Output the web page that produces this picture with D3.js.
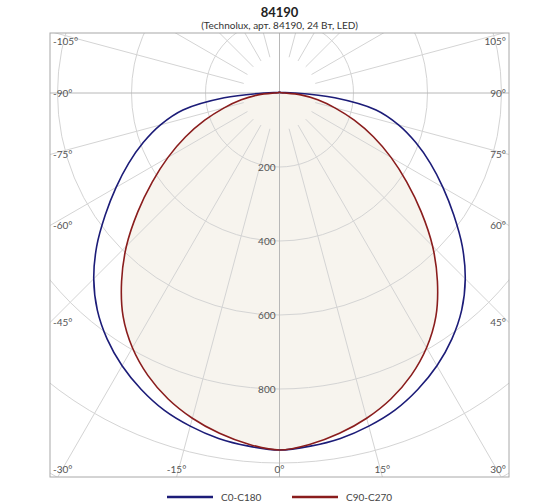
<!DOCTYPE html>
<html>
<head>
<meta charset="utf-8">
<script src="https://cdn.jsdelivr.net/npm/d3@7"></script>
<style>
  body { margin: 0; background: #fff; }
  svg { display: block; font-family: Lato, "Open Sans", sans-serif; }
</style>
</head>
<body>
<svg width="560" height="504"></svg>
<script>
// gamma angles (degrees from nadir), same for both halves
const gammaAngles = [0, 5, 10, 15, 20, 25, 30, 35, 40, 45, 50, 55, 60, 65, 70, 75, 80, 85, 90,
  95, 100, 105, 110, 115, 120, 125, 130, 135, 140, 145, 150, 155, 160, 165, 170, 175, 180];

// cd/klm
const c0c180 = [965, 958, 948, 932, 912, 884, 851, 812, 766, 710, 645, 575, 510, 450, 392, 333, 265, 150, 40,
  12, 6, 4, 3, 3, 3, 3, 2, 2, 2, 2, 2, 2, 2, 2, 2, 2, 2];
const c90c270 = [965, 953, 934, 910, 880, 842, 795, 737, 664, 585, 500, 420, 348, 280, 215, 155, 105, 58, 14,
  6, 4, 3, 3, 3, 3, 2, 2, 2, 2, 2, 2, 2, 2, 2, 2, 2, 2];

const circleValues = [200, 400, 600, 800, 1000, 1200];
const radiusLabels = [200, 400, 600, 800];
const angleLabels = [-105, -90, -75, -60, -45, -30, -15, 0, 15, 30, 45, 60, 75, 90, 105];
const seriesNames = ["C0-C180", "C90-C270"];

const svg = d3.select("svg");
const box = { left: 50, right: 509, top: 33, bottom: 477 };
const cx = 279.5, cy = 93;

const r = d3.scaleLinear().domain([0, 1000]).range([0, 370]);
const rad = g => g * Math.PI / 180;

// title
svg.append("text").attr("x", cx).attr("y", 17).attr("text-anchor", "middle")
  .attr("font-size", 13).attr("font-weight", "bold").attr("fill", "#222").text("84190");
svg.append("text").attr("x", cx).attr("y", 29).attr("text-anchor", "middle")
  .attr("font-size", 10).attr("fill", "#333").text("(Technolux, арт. 84190, 24 Вт, LED)");

svg.append("clipPath").attr("id", "clip").append("rect")
  .attr("x", box.left).attr("y", box.top)
  .attr("width", box.right - box.left).attr("height", box.bottom - box.top);

const plot = svg.append("g").attr("clip-path", "url(#clip)");
const g = plot.append("g").attr("transform", `translate(${cx},${cy})`);

function toPoints(vals) {
  const pts = [];
  for (let i = gammaAngles.length - 1; i > 0; i--) pts.push({ g: -gammaAngles[i], v: vals[i] });
  for (let i = 0; i < gammaAngles.length - 1; i++) pts.push({ g: gammaAngles[i], v: vals[i] });
  return pts;
}

const line = d3.lineRadial()
  .angle(d => Math.PI - rad(d.g))
  .radius(d => r(d.v))
  .curve(d3.curveCatmullRomClosed.alpha(0.5));

// fill of the C90-C270 curve
g.append("path").datum(toPoints(c90c270)).attr("d", line)
  .attr("fill", "#f7f4ee").attr("stroke", "none");

// grid
g.selectAll("circle.grid").data(circleValues).enter().append("circle")
  .attr("r", d => r(d)).attr("fill", "none").attr("stroke", "#d4d4d4").attr("stroke-width", 1);

const spokes = d3.range(0, 360, 15);
g.selectAll("line.spoke").data(spokes).enter().append("line")
  .attr("x1", d => (d % 90 === 0 ? 0 : r(100)) * Math.sin(rad(d)))
  .attr("y1", d => (d % 90 === 0 ? 0 : r(100)) * Math.cos(rad(d)))
  .attr("x2", d => 700 * Math.sin(rad(d)))
  .attr("y2", d => 700 * Math.cos(rad(d)))
  .attr("stroke", d => d % 90 === 0 ? "#b8b8b8" : "#d4d4d4")
  .attr("stroke-width", 1);

// curves
g.append("path").datum(toPoints(c0c180)).attr("d", line)
  .attr("fill", "none").attr("stroke", "#1c1c78").attr("stroke-width", 1.6);
g.append("path").datum(toPoints(c90c270)).attr("d", line)
  .attr("fill", "none").attr("stroke", "#8a1d1d").attr("stroke-width", 1.6);

// box
svg.append("rect").attr("x", box.left).attr("y", box.top)
  .attr("width", box.right - box.left).attr("height", box.bottom - box.top)
  .attr("fill", "none").attr("stroke", "#a8a8a8");

// radius labels
svg.selectAll("text.rl").data(radiusLabels).enter().append("text")
  .attr("x", cx - 4).attr("y", d => cy + r(d)).attr("dy", "0.35em")
  .attr("text-anchor", "end").attr("font-size", 10).attr("fill", "#555")
  .text(d => d);

// angle labels at the box edge
angleLabels.forEach(a => {
  const dx = Math.sin(rad(a)), dy = Math.cos(rad(a));
  let x, y, anchor;
  const tSide = dx !== 0 ? ((dx > 0 ? box.right - cx : cx - box.left) / Math.abs(dx)) : Infinity;
  const tBottom = dy > 0 ? (box.bottom - cy) / dy : Infinity;
  if (tSide <= tBottom) {
    x = dx > 0 ? box.right - 3 : box.left + 3;
    anchor = dx > 0 ? "end" : "start";
    y = Math.max(box.top + 8, cy + dy * tSide);
  } else {
    x = cx + dx * tBottom;
    y = box.bottom - 8;
    anchor = "middle";
    if (x < box.left + 20) { x = box.left + 3; anchor = "start"; }
    if (x > box.right - 20) { x = box.right - 3; anchor = "end"; }
  }
  svg.append("text").attr("x", x).attr("y", y).attr("dy", "0.35em")
    .attr("text-anchor", anchor).attr("font-size", 10).attr("fill", "#555")
    .text(a + "°");
});

// legend
const legendColors = ["#1c1c78", "#8a1d1d"];
const lg = svg.selectAll("g.legend").data(seriesNames).enter().append("g")
  .attr("transform", (d, i) => `translate(${167 + i * 125},497)`);
lg.append("line").attr("x1", 0).attr("x2", 46).attr("y1", 0).attr("y2", 0)
  .attr("stroke", (d, i) => legendColors[i]).attr("stroke-width", 2.5);
lg.append("text").attr("x", 54).attr("dy", "0.35em").attr("font-size", 10)
  .attr("fill", "#444").text(d => d);
</script>
</body>
</html>
